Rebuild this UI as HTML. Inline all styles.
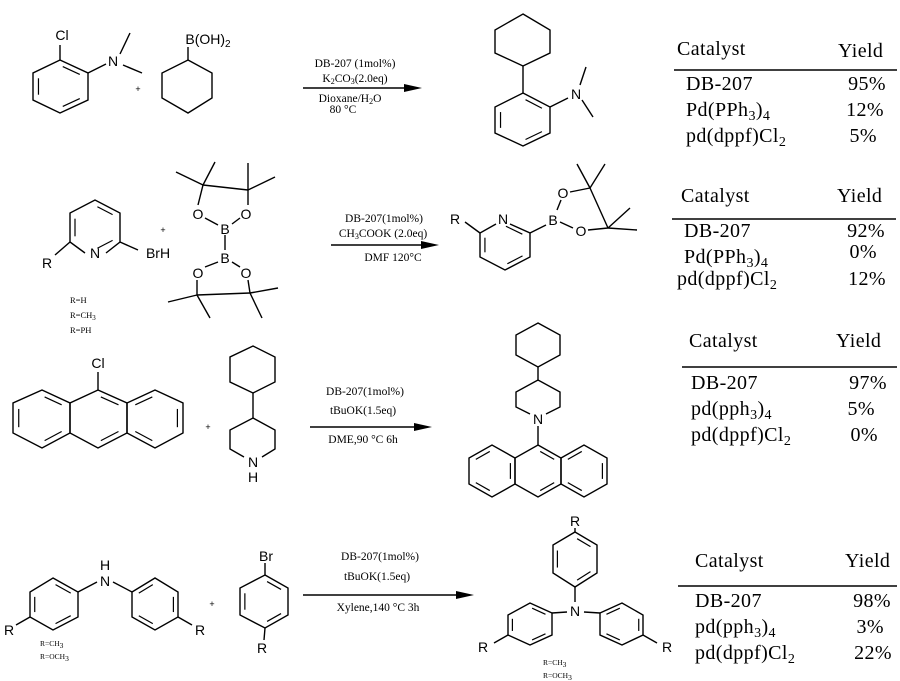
<!DOCTYPE html>
<html><head><meta charset="utf-8"><style>
html,body{margin:0;padding:0;background:#fff}
svg{display:block}
.a{font-family:"Liberation Sans",sans-serif;font-size:14px;fill:#000;text-anchor:middle}
.c{font-family:"Liberation Serif",serif;font-size:11.5px;fill:#000;text-anchor:middle}
.s{font-family:"Liberation Serif",serif;font-size:8.5px;fill:#000}
.t{font-family:"Liberation Serif",serif;font-size:20px;letter-spacing:0.4px;fill:#000}
.y{font-family:"Liberation Serif",serif;font-size:20px;letter-spacing:0.4px;fill:#000;text-anchor:end}
</style></head><body>
<svg id="s" width="900" height="681" viewBox="0 0 900 681" xmlns="http://www.w3.org/2000/svg">
<g fill="none" stroke="#000" stroke-width="1.4">
<polygon id="r1" points="60,60 88,73 88,100 60,113 33,100 33,73"/>
<line x1="60" y1="60" x2="60" y2="45"/><line x1="88" y1="73" x2="106" y2="64"/>
<line x1="120" y1="54" x2="130" y2="33"/><line x1="123" y1="65" x2="142" y2="73"/>
<polygon points="188,60 212,73 212,98 188,113 162,98 162,73"/>
<line x1="188" y1="60" x2="188" y2="47"/>
<line x1="303" y1="88" x2="410" y2="88"/>
<polygon id="p1" points="523,93 550,107 550,133 523,146 495,133 495,107"/>
<polygon points="523,14 550,30 550,53 523,66 495,53 495,30"/>
<line x1="523" y1="66" x2="523" y2="93"/><line x1="550" y1="107" x2="568" y2="98"/>
<line x1="580" y1="85" x2="586" y2="67"/><line x1="582" y1="100" x2="593" y2="117"/>
<polyline points="85,253 70,242 70,213 95,200 120,213 120,242 106,253"/>
<line x1="70" y1="242" x2="55" y2="255"/><line x1="120" y1="242" x2="138" y2="250"/>
<line x1="203" y1="185" x2="198" y2="205"/><line x1="248" y1="190" x2="248" y2="205"/>
<line x1="203" y1="185" x2="248" y2="190"/>
<line x1="203" y1="185" x2="176" y2="172"/><line x1="203" y1="185" x2="215" y2="162"/>
<line x1="248" y1="190" x2="248" y2="163"/><line x1="248" y1="190" x2="275" y2="177"/>
<line x1="205" y1="218" x2="218" y2="225"/><line x1="240" y1="218" x2="232" y2="224"/>
<line x1="225" y1="235" x2="225" y2="250"/>
<line x1="205" y1="267" x2="218" y2="262"/><line x1="240" y1="267" x2="232" y2="262"/>
<line x1="197" y1="280" x2="197" y2="295"/><line x1="248" y1="280" x2="250" y2="293"/>
<line x1="197" y1="295" x2="250" y2="293"/>
<line x1="197" y1="295" x2="168" y2="302"/><line x1="197" y1="295" x2="210" y2="318"/>
<line x1="250" y1="293" x2="278" y2="288"/><line x1="250" y1="293" x2="262" y2="318"/>
<line x1="331" y1="245" x2="427" y2="245"/>
<polyline points="510,224 530,233 530,257 505,270 480,257 480,233 496,224"/>
<line x1="465" y1="222" x2="480" y2="233"/><line x1="530" y1="233" x2="546" y2="225"/>
<line x1="557" y1="210" x2="561" y2="200"/><line x1="560" y1="222" x2="573" y2="228"/>
<line x1="570" y1="192" x2="590" y2="188"/><line x1="588" y1="230" x2="608" y2="228"/>
<line x1="590" y1="188" x2="608" y2="228"/>
<line x1="590" y1="188" x2="577" y2="164"/><line x1="590" y1="188" x2="605" y2="164"/>
<line x1="608" y1="228" x2="630" y2="208"/><line x1="608" y1="228" x2="637" y2="230"/>
<polygon id="a1" points="98,390 127,403 127,433 98,448 70,433 70,403"/>
<polygon id="a2" points="70,403 70,433 42,448 13,433 13,403 42,390"/>
<polygon id="a3" points="127,403 155,390 183,403 183,433 155,448 127,433"/>
<line x1="98" y1="390" x2="98" y2="372"/>
<polygon points="253,346 275,357 275,382 253,393 230,382 230,357"/>
<line x1="253" y1="393" x2="253" y2="418"/>
<polyline points="244,457 230,449 230,430 253,418 275,430 275,449 262,457"/>
<line x1="310" y1="427" x2="420" y2="427"/>
<polygon points="538,323 560,335 560,355 538,367 516,355 516,335"/>
<line x1="538" y1="367" x2="538" y2="380"/>
<polyline points="530,414 516,407 516,392 538,380 560,392 560,407 546,414"/>
<line x1="538" y1="426" x2="538" y2="445"/>
<polygon id="b1" points="538,445 561,458 561,484 538,497 515,484 515,458"/>
<polygon id="b2" points="515,458 492,445 469,458 469,484 492,497 515,484"/>
<polygon id="b3" points="561,458 584,445 607,458 607,484 584,497 561,484"/>
<polygon id="d1" points="53,578 78,592 78,617 53,630 30,617 30,592"/>
<polygon id="d2" points="132,592 155,578 178,592 178,617 155,630 132,617"/>
<line x1="78" y1="592" x2="97" y2="582"/><line x1="113" y1="582" x2="132" y2="592"/>
<line x1="30" y1="617" x2="16" y2="625"/><line x1="178" y1="617" x2="192" y2="625"/>
<polygon id="d3" points="265,575 288,588 288,615 265,628 240,615 240,588"/>
<line x1="265" y1="575" x2="265" y2="563"/><line x1="265" y1="628" x2="264" y2="640"/>
<line x1="303" y1="595" x2="462" y2="595"/>
<polygon id="e1" points="575,532 597,545 597,573 575,587 553,573 553,545"/>
<polygon id="e2" points="552,613 530,603 508,615 508,635 530,645 552,635"/>
<polygon id="e3" points="600,613 622,603 643,615 643,635 622,645 600,635"/>
<line x1="575" y1="587" x2="575" y2="602"/><line x1="567" y1="612" x2="552" y2="613"/><line x1="584" y1="612" x2="600" y2="613"/>
<line x1="575" y1="532" x2="575" y2="528"/>
<line x1="508" y1="635" x2="494" y2="643"/><line x1="643" y1="635" x2="657" y2="643"/>
<line x1="674" y1="70" x2="897" y2="70"/><line x1="672" y1="219" x2="896" y2="219"/>
<line x1="682" y1="367" x2="897" y2="367"/><line x1="678" y1="586" x2="897" y2="586"/>
</g>
<g fill="#000">
<polygon points="422,88 404,84 404,92"/><polygon points="439,245 421,241 421,249"/>
<polygon points="432,427 414,423 414,431"/><polygon points="474,595 456,591 456,599"/>
</g>
<g id="dbl" fill="none" stroke="#000" stroke-width="1.2"></g>
<text class="a" x="62" y="40">Cl</text><text class="a" x="113" y="66">N</text>
<text class="a" x="138" y="92" style="font-size:9px">+</text>
<text class="a" x="208" y="44">B(OH)<tspan style="font-size:10px" dy="3">2</tspan></text>
<text class="a" x="576" y="99">N</text>
<text class="c" x="355" y="67">DB-207  (1mol%)</text><text class="c" x="355" y="82">K<tspan font-size="8" dy="2">2</tspan><tspan dy="-2">CO</tspan><tspan font-size="8" dy="2">3</tspan><tspan dy="-2">(2.0eq)</tspan></text>
<text class="c" x="350" y="102">Dioxane/H<tspan font-size="8" dy="2">2</tspan><tspan dy="-2">O</tspan></text><text class="c" x="343" y="113">80  °C</text>
<text class="a" x="95" y="258">N</text><text class="a" x="47" y="268">R</text><text class="a" x="158" y="258">BrH</text>
<text class="a" x="163" y="233" style="font-size:9px">+</text>
<text class="s" x="70" y="303">R=H</text><text class="s" x="70" y="318">R=CH<tspan font-size="7" dy="2">3</tspan></text><text class="s" x="70" y="333">R=PH</text>
<text class="a" x="198" y="219">O</text><text class="a" x="246" y="219">O</text><text class="a" x="225" y="234">B</text>
<text class="a" x="225" y="263">B</text><text class="a" x="198" y="278">O</text><text class="a" x="246" y="278">O</text>
<text class="c" x="384" y="222">DB-207(1mol%)</text><text class="c" x="383" y="237">CH<tspan font-size="8" dy="2">3</tspan><tspan dy="-2">COOK  (2.0eq)</tspan></text>
<text class="c" x="393" y="261">DMF  120°C</text>
<text class="a" x="503" y="224">N</text><text class="a" x="455" y="224">R</text><text class="a" x="553" y="225">B</text>
<text class="a" x="563" y="198">O</text><text class="a" x="581" y="236">O</text>
<text class="a" x="98" y="368">Cl</text><text class="a" x="208" y="430" style="font-size:9px">+</text>
<text class="a" x="253" y="467">N</text><text class="a" x="253" y="482">H</text>
<text class="c" x="365" y="395">DB-207(1mol%)</text><text class="c" x="363" y="414">tBuOK(1.5eq)</text><text class="c" x="363" y="443">DME,90 °C 6h</text>
<text class="a" x="538" y="424">N</text>
<text class="a" x="105" y="586">N</text><text class="a" x="105" y="570">H</text>
<text class="a" x="9" y="635">R</text><text class="a" x="200" y="635">R</text>
<text class="s" x="40" y="646" style="font-size:7.5px">R=CH<tspan dy="2">3</tspan></text><text class="s" x="40" y="659" style="font-size:7.5px">R=OCH<tspan dy="2">3</tspan></text>
<text class="a" x="212" y="607" style="font-size:9px">+</text>
<text class="a" x="266" y="561">Br</text><text class="a" x="262" y="653">R</text>
<text class="c" x="380" y="560">DB-207(1mol%)</text><text class="c" x="377" y="580">tBuOK(1.5eq)</text><text class="c" x="378" y="611">Xylene,140 °C 3h</text>
<text class="a" x="575" y="526">R</text><text class="a" x="575" y="616">N</text>
<text class="a" x="483" y="652">R</text><text class="a" x="667" y="652">R</text>
<text class="s" x="543" y="665" style="font-size:7.5px">R=CH<tspan dy="2">3</tspan></text><text class="s" x="543" y="678" style="font-size:7.5px">R=OCH<tspan dy="2">3</tspan></text>
<text class="t" x="677" y="55">Catalyst</text><text class="t" x="838" y="57">Yield</text>
<text class="t" x="686" y="90">DB-207</text><text class="y" x="886" y="90">95%</text>
<text class="t" x="686" y="116">Pd(PPh<tspan font-size="14" dy="4">3</tspan><tspan dy="-4">)</tspan><tspan font-size="14" dy="4">4</tspan></text><text class="y" x="884" y="116">12%</text>
<text class="t" x="686" y="142">pd(dppf)Cl<tspan font-size="14" dy="4">2</tspan></text><text class="y" x="877" y="142">5%</text>
<text class="t" x="681" y="202">Catalyst</text><text class="t" x="837" y="202">Yield</text>
<text class="t" x="684" y="237">DB-207</text><text class="y" x="885" y="237">92%</text>
<text class="t" x="684" y="263">Pd(PPh<tspan font-size="14" dy="4">3</tspan><tspan dy="-4">)</tspan><tspan font-size="14" dy="4">4</tspan></text><text class="y" x="877" y="258">0%</text>
<text class="t" x="677" y="285">pd(dppf)Cl<tspan font-size="14" dy="4">2</tspan></text><text class="y" x="886" y="285">12%</text>
<text class="t" x="689" y="347">Catalyst</text><text class="t" x="836" y="347">Yield</text>
<text class="t" x="691" y="389">DB-207</text><text class="y" x="887" y="389">97%</text>
<text class="t" x="691" y="415">pd(pph<tspan font-size="14" dy="4">3</tspan><tspan dy="-4">)</tspan><tspan font-size="14" dy="4">4</tspan></text><text class="y" x="875" y="415">5%</text>
<text class="t" x="691" y="441">pd(dppf)Cl<tspan font-size="14" dy="4">2</tspan></text><text class="y" x="878" y="441">0%</text>
<text class="t" x="695" y="567">Catalyst</text><text class="t" x="845" y="567">Yield</text>
<text class="t" x="695" y="607">DB-207</text><text class="y" x="891" y="607">98%</text>
<text class="t" x="695" y="633">pd(pph<tspan font-size="14" dy="4">3</tspan><tspan dy="-4">)</tspan><tspan font-size="14" dy="4">4</tspan></text><text class="y" x="884" y="633">3%</text>
<text class="t" x="695" y="659">pd(dppf)Cl<tspan font-size="14" dy="4">2</tspan></text><text class="y" x="892" y="659">22%</text>
</svg>
<script>
(function(){
var g=document.getElementById('dbl');
function inner(pts,idx){
 var cx=0,cy=0;pts.forEach(function(p){cx+=p[0];cy+=p[1]});cx/=pts.length;cy/=pts.length;
 idx.forEach(function(i){
  var a=pts[i],b=pts[(i+1)%pts.length];
  var f=function(p){return [p[0]+(cx-p[0])*0.2,p[1]+(cy-p[1])*0.2]};
  var A=f(a),B=f(b);
  var dx=B[0]-A[0],dy=B[1]-A[1];
  A=[A[0]+dx*0.12,A[1]+dy*0.12];B=[B[0]-dx*0.12,B[1]-dy*0.12];
  var l=document.createElementNS('http://www.w3.org/2000/svg','line');
  l.setAttribute('x1',A[0]);l.setAttribute('y1',A[1]);l.setAttribute('x2',B[0]);l.setAttribute('y2',B[1]);
  g.appendChild(l);
 });
}
function P(id){return document.getElementById(id).getAttribute('points').trim().split(/\s+/).map(function(s){return s.split(',').map(Number)})}
inner(P('r1'),[0,2,4]);inner(P('p1'),[0,2,4]);
inner([[95,200],[120,213],[120,242],[95,255],[70,242],[70,213]],[0,2,4]);
inner([[503,220],[530,233],[530,257],[505,270],[480,257],[480,233]],[0,2,4]);
inner(P('a1'),[0,2]);inner(P('a2'),[1,3,5]);inner(P('a3'),[0,2,4]);
inner(P('b1'),[0,2]);inner(P('b2'),[1,3,5]);inner(P('b3'),[0,2,4]);
inner(P('d1'),[0,2,4]);inner(P('d2'),[0,2,4]);inner(P('d3'),[0,2,4]);
inner(P('e1'),[0,2,4]);inner(P('e2'),[0,2,4]);inner(P('e3'),[0,2,4]);
})();
</script>
</body></html>
